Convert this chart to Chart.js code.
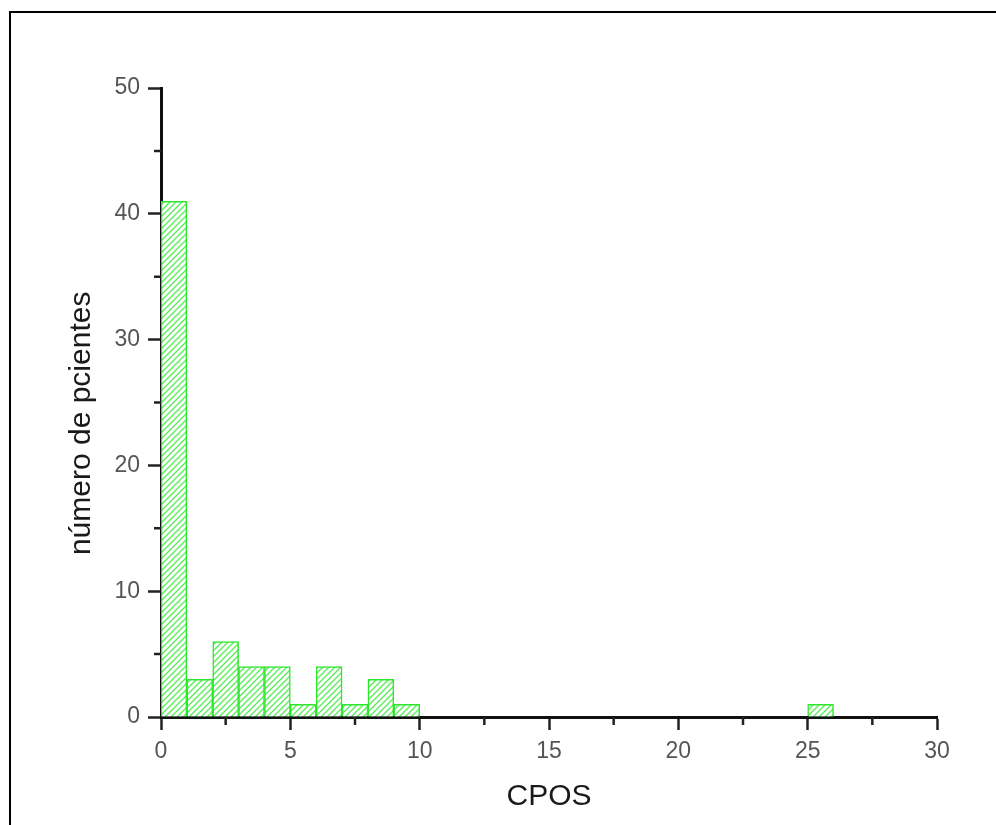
<!DOCTYPE html>
<html>
<head>
<meta charset="utf-8">
<script src="https://cdn.jsdelivr.net/npm/chart.js@4/dist/chart.umd.min.js"></script>
<style>
  html, body { margin: 0; padding: 0; background: #fff; overflow: hidden; }
  #wrap { position: relative; width: 996px; height: 825px; }
  #frame { position: absolute; left: 9px; top: 11px; width: 1000px; height: 900px;
           border-left: 2px solid #000; border-top: 2px solid #000; pointer-events: none; }
  canvas { position: absolute; left: 0; top: 0; }
</style>
</head>
<body>
<div id="wrap">
  <canvas id="chart" width="996" height="825"></canvas>
  <div id="frame"></div>
</div>
<script>
// histogram bins (left edge of each 1-wide bin) and counts
const binStarts = [0, 1, 2, 3, 4, 5, 6, 7, 8, 9, 25]
const counts = [41, 3, 6, 4, 4, 1, 4, 1, 3, 1, 1]
const binWidth = 1

const xTitle = "CPOS"
const yTitle = "número de pcientes"
const xMinorTicks = [2.5, 7.5, 12.5, 17.5, 22.5, 27.5]
const yMinorTicks = [5, 15, 25, 35, 45]

const green = "#2ee62e"

function hatch() {
  const c = document.createElement("canvas")
  c.width = 6
  c.height = 6
  const g = c.getContext("2d")
  g.fillStyle = "#fff"
  g.fillRect(0, 0, 6, 6)
  g.strokeStyle = "#55ee55"
  g.lineWidth = 1.3
  g.beginPath()
  g.moveTo(0, 6); g.lineTo(6, 0)
  g.moveTo(-3, 3); g.lineTo(3, -3)
  g.moveTo(3, 9); g.lineTo(9, 3)
  g.stroke()
  return g.createPattern(c, "repeat")
}

const minorTicks = {
  id: "minorTicks",
  afterDraw(chart) {
    const ctx = chart.ctx
    const xs = chart.scales.x
    const ys = chart.scales.y
    const area = chart.chartArea
    ctx.save()
    ctx.strokeStyle = "#222"
    ctx.lineWidth = 2.5
    ctx.beginPath()
    xMinorTicks.forEach(v => {
      const px = xs.getPixelForValue(v)
      ctx.moveTo(px, area.bottom)
      ctx.lineTo(px, area.bottom + 8)
    })
    yMinorTicks.forEach(v => {
      const py = ys.getPixelForValue(v)
      ctx.moveTo(area.left, py)
      ctx.lineTo(area.left - 7, py)
    })
    ctx.stroke()
    ctx.restore()
  }
}

const points = binStarts.map((b, i) => ({ x: b + binWidth / 2, y: counts[i] }))

new Chart(document.getElementById("chart"), {
  type: "bar",
  data: {
    datasets: [{
      data: points,
      backgroundColor: hatch(),
      borderColor: green,
      borderWidth: 1.5,
      barPercentage: 1,
      categoryPercentage: 1
    }]
  },
  options: {
    responsive: false,
    animation: false,
    layout: { padding: { top: 88, right: 59, left: 0, bottom: 0 } },
    plugins: { legend: { display: false }, tooltip: { enabled: false } },
    scales: {
      x: {
        type: "linear",
        min: 0,
        max: 30,
        offset: false,
        afterFit: s => { s.height = 108 },
        border: { color: "#111", width: 3 },
        grid: { offset: false, drawOnChartArea: false, tickLength: 13, tickWidth: 2.5, tickColor: "#222" },
        ticks: { stepSize: 5, padding: 8, color: "#555", font: { family: "Liberation Sans", size: 23 } },
        title: { display: true, text: xTitle, color: "#1a1a1a",
                 font: { family: "Liberation Sans", size: 30 }, padding: { top: 0, bottom: 10 } }
      },
      y: {
        min: 0,
        max: 50,
        afterFit: s => { s.width = 161 },
        border: { color: "#111", width: 3 },
        grid: { drawOnChartArea: false, tickLength: 13, tickWidth: 2.5, tickColor: "#222" },
        ticks: { stepSize: 10, padding: 8, color: "#555", font: { family: "Liberation Sans", size: 23 } },
        title: { display: true, text: yTitle + "     ", color: "#1a1a1a",
                 font: { family: "Liberation Sans", size: 30 }, padding: { top: 64, bottom: 0 } }
      }
    }
  },
  plugins: [minorTicks]
})
</script>
</body>
</html>
